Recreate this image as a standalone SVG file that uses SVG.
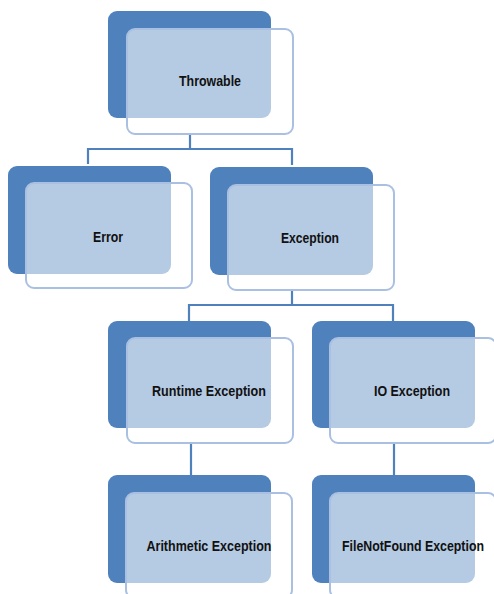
<svg xmlns="http://www.w3.org/2000/svg" width="494" height="594" viewBox="0 0 494 594">
<style>
.back{fill:#4F81BD;}
.front{fill:#FFFFFF;fill-opacity:0.58;stroke:#A9C0E2;stroke-width:2;}
.lbl{font-family:"Liberation Sans Narrow","Liberation Sans",Arial,sans-serif;font-weight:bold;font-size:15px;fill:#111111;text-anchor:middle;}
.con{fill:none;stroke:#4F81BD;stroke-width:2.2;}
</style>
<rect width="494" height="594" fill="#FFFFFF"/>
<g id="connectors">
<polyline class="con" points="190,135 190,149"/>
<polyline class="con" points="88,164 88,149 292,149 292,165"/>
<polyline class="con" points="292,291 292,305"/>
<polyline class="con" points="189,321 189,305 393,305 393,321"/>
<polyline class="con" points="191,444 191,475"/>
<polyline class="con" points="394,444 394,475"/>
</g>
<g id="throwable">
<rect class="back" x="108" y="11" width="163" height="107" rx="9"/>
<rect class="front" x="127" y="29" width="166" height="105" rx="8"/>
<text class="lbl" x="210" y="86" textLength="62" lengthAdjust="spacingAndGlyphs">Throwable</text>
</g>
<g id="error">
<rect class="back" x="8" y="166" width="163" height="108" rx="9"/>
<rect class="front" x="26" y="183" width="166" height="105" rx="8"/>
<text class="lbl" x="108" y="242" textLength="30" lengthAdjust="spacingAndGlyphs">Error</text>
</g>
<g id="exception">
<rect class="back" x="210" y="167" width="163" height="108" rx="9"/>
<rect class="front" x="228" y="185" width="166" height="105" rx="8"/>
<text class="lbl" x="310" y="243" textLength="58" lengthAdjust="spacingAndGlyphs">Exception</text>
</g>
<g id="runtime">
<rect class="back" x="108" y="321" width="163" height="107" rx="9"/>
<rect class="front" x="127" y="338" width="166" height="105" rx="8"/>
<text class="lbl" x="209" y="396" textLength="114" lengthAdjust="spacingAndGlyphs">Runtime Exception</text>
</g>
<g id="io">
<rect class="back" x="312" y="321" width="163" height="107" rx="9"/>
<rect class="front" x="330" y="338" width="166" height="105" rx="8"/>
<text class="lbl" x="412" y="396" textLength="76" lengthAdjust="spacingAndGlyphs">IO Exception</text>
</g>
<g id="arithmetic">
<rect class="back" x="108" y="475" width="163" height="108" rx="9"/>
<rect class="front" x="126" y="493" width="166" height="105" rx="8"/>
<text class="lbl" x="209" y="551" textLength="125" lengthAdjust="spacingAndGlyphs">Arithmetic Exception</text>
</g>
<g id="filenotfound">
<rect class="back" x="312" y="475" width="163" height="108" rx="9"/>
<rect class="front" x="330" y="493" width="166" height="105" rx="8"/>
<text class="lbl" x="413" y="551" textLength="142" lengthAdjust="spacingAndGlyphs">FileNotFound Exception</text>
</g>
</svg>
